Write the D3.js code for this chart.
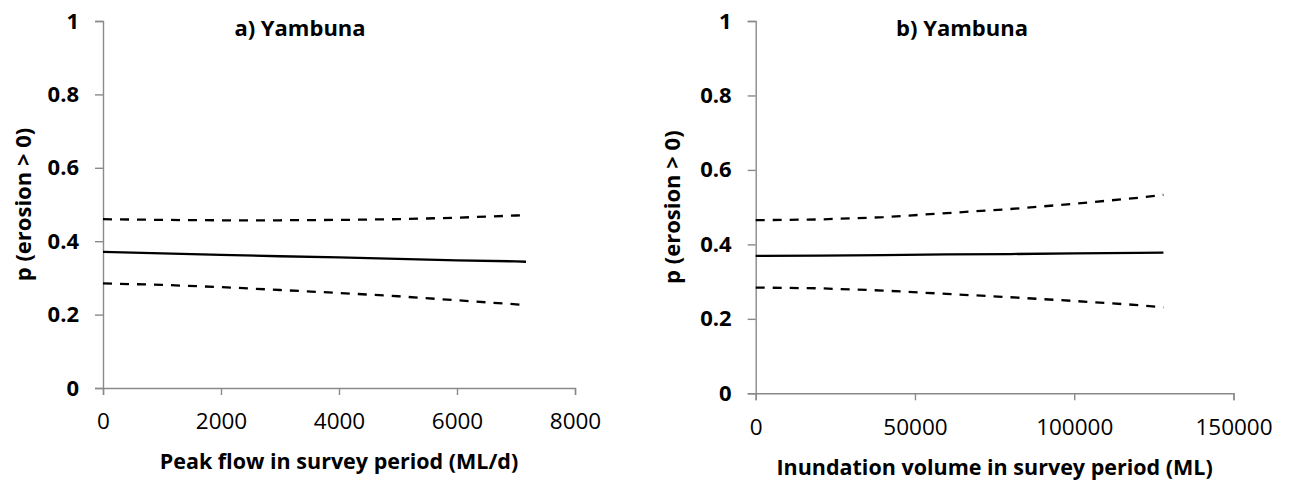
<!DOCTYPE html>
<html>
<head>
<meta charset="utf-8">
<script src="https://cdn.jsdelivr.net/npm/d3@7"></script>
<style>
  html, body { margin: 0; padding: 0; background: #fff; }
  svg { display: block; }
  text { font-family: "Open Sans", Lato, sans-serif; fill: #000; }
</style>
</head>
<body>
<svg id="chart" width="1290" height="482"></svg>
<script>
// ---- data ----
const yTickValues = [0, 0.2, 0.4, 0.6, 0.8, 1];
const yTickLabels = ["0", "0.2", "0.4", "0.6", "0.8", "1"];

const peakFlowTicks = [0, 2000, 4000, 6000, 8000];
const peakFlow      = [0, 1000, 2000, 3000, 4000, 5000, 6000, 7000, 7170];
const peakMean      = [0.371, 0.367, 0.363, 0.359, 0.356, 0.352, 0.348, 0.345, 0.344];
const peakUpper     = [0.460, 0.458, 0.457, 0.457, 0.458, 0.460, 0.464, 0.470, 0.471];
const peakLower     = [0.285, 0.281, 0.275, 0.267, 0.259, 0.250, 0.239, 0.228, 0.226];

const inundTicks = [0, 50000, 100000, 150000];
const inund      = [0, 20000, 40000, 60000, 80000, 100000, 120000, 128000];
const inundMean  = [0.369, 0.370, 0.371, 0.373, 0.374, 0.376, 0.377, 0.378];
const inundUpper = [0.465, 0.467, 0.473, 0.484, 0.495, 0.509, 0.525, 0.533];
const inundLower = [0.284, 0.282, 0.276, 0.267, 0.258, 0.248, 0.237, 0.231];

const svg = d3.select("#chart");
const FONT = "'Open Sans', Lato, sans-serif";

function panel(cfg) {
  const x = d3.scaleLinear().domain(cfg.xDomain).range([cfg.left, cfg.right]);
  const y = d3.scaleLinear().domain([0, 1]).range([cfg.bottom, cfg.top]);
  const g = svg.append("g");
  const axisColor = "#8a8a8a";

  // y axis
  const yAxis = d3.axisLeft(y).tickValues(yTickValues)
    .tickFormat((d, i) => yTickLabels[i]).tickSize(8).tickPadding(16);
  const ya = g.append("g").attr("transform", `translate(${cfg.left},0)`).call(yAxis);
  ya.select(".domain").attr("stroke", axisColor).attr("stroke-width", 1.4);
  ya.selectAll(".tick line").attr("stroke", axisColor).attr("stroke-width", 1.4);
  ya.selectAll(".tick text").attr("font-size", 22).attr("font-weight", "bold")
    .attr("font-family", FONT).attr("fill", "#000");

  // x axis
  const xAxis = d3.axisBottom(x).tickValues(cfg.xTicks).tickFormat(d3.format("d"))
    .tickSize(7).tickPadding(cfg.xPad);
  const xa = g.append("g").attr("transform", `translate(0,${cfg.bottom})`).call(xAxis);
  xa.select(".domain").attr("stroke", axisColor).attr("stroke-width", 1.4);
  xa.selectAll(".tick line").attr("stroke", axisColor).attr("stroke-width", 1.4);
  xa.selectAll(".tick text").attr("font-size", 22.5).attr("font-weight", "normal")
    .attr("font-family", FONT).attr("fill", "#000");

  // lines
  const line = d3.line().x(d => x(d[0])).y(d => y(d[1]));
  const mk = vals => cfg.xs.map((v, i) => [v, vals[i]]);
  g.append("path").datum(mk(cfg.upper)).attr("d", line).attr("fill", "none")
    .attr("stroke", "#000").attr("stroke-width", 2.3).attr("stroke-dasharray", "9,8");
  g.append("path").datum(mk(cfg.lower)).attr("d", line).attr("fill", "none")
    .attr("stroke", "#000").attr("stroke-width", 2.3).attr("stroke-dasharray", "9,8");
  g.append("path").datum(mk(cfg.mean)).attr("d", line).attr("fill", "none")
    .attr("stroke", "#000").attr("stroke-width", 2.3);

  // titles
  g.append("text").attr("x", cfg.titleX).attr("y", 36).attr("text-anchor", "middle")
    .attr("font-size", 22).attr("font-weight", "bold").text(cfg.title);
  g.append("text").attr("x", (cfg.left + cfg.right) / 2).attr("y", cfg.xTitleY)
    .attr("text-anchor", "middle").attr("font-size", 21.5).attr("font-weight", "bold")
    .text(cfg.xTitle);
  g.append("text").attr("transform", `translate(${cfg.yTitleX},${(cfg.top + cfg.bottom) / 2}) rotate(-90)`)
    .attr("text-anchor", "middle").attr("font-size", 22).attr("font-weight", "bold")
    .text("p (erosion > 0)");
}

panel({
  left: 103, right: 575, top: 21, bottom: 388,
  xDomain: [0, 8000], xTicks: peakFlowTicks, xPad: 18,
  xs: peakFlow, mean: peakMean, upper: peakUpper, lower: peakLower,
  title: "a) Yambuna", titleX: 300,
  xTitle: "Peak flow in survey period (ML/d)", xTitleY: 469,
  yTitleX: 31
});

panel({
  left: 755.7, right: 1233.5, top: 21, bottom: 393.3,
  xDomain: [0, 150000], xTicks: inundTicks, xPad: 19,
  xs: inund, mean: inundMean, upper: inundUpper, lower: inundLower,
  title: "b) Yambuna", titleX: 962,
  xTitle: "Inundation volume in survey period (ML)", xTitleY: 475,
  yTitleX: 680
});
</script>
</body>
</html>
